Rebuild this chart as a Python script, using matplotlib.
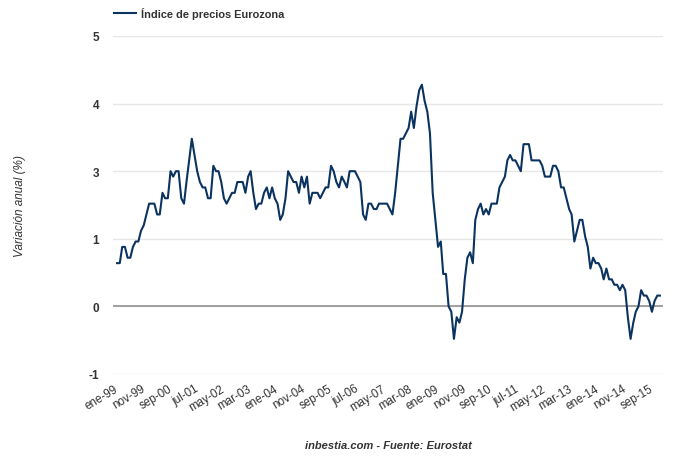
import numpy as np
import pandas as pd
import matplotlib
matplotlib.use("Agg")
import matplotlib.pyplot as plt
from matplotlib.transforms import ScaledTranslation

plt.rcParams['font.family'] = ['Liberation Sans', 'DejaVu Sans']

# Índice de precios Eurozona, variación anual (%), mensual ene-1999 .. dic-2015
ipc_1999 = [0.8, 0.8, 1.1, 1.1, 0.9, 0.9, 1.1, 1.2, 1.2, 1.4, 1.5, 1.7]
ipc_2000 = [1.9, 1.9, 1.9, 1.7, 1.7, 2.1, 2.0, 2.0, 2.5, 2.4, 2.5, 2.5]
ipc_2001 = [2.0, 1.9, 2.3, 2.7, 3.1, 2.8, 2.5, 2.3, 2.2, 2.2, 2.0, 2.0]
ipc_2002 = [2.6, 2.5, 2.5, 2.3, 2.0, 1.9, 2.0, 2.1, 2.1, 2.3, 2.3, 2.3]
ipc_2003 = [2.1, 2.4, 2.5, 2.1, 1.8, 1.9, 1.9, 2.1, 2.2, 2.0, 2.2, 2.0]
ipc_2004 = [1.9, 1.6, 1.7, 2.0, 2.5, 2.4, 2.3, 2.3, 2.1, 2.4, 2.2, 2.4]
ipc_2005 = [1.9, 2.1, 2.1, 2.1, 2.0, 2.1, 2.2, 2.2, 2.6, 2.5, 2.3, 2.2]
ipc_2006 = [2.4, 2.3, 2.2, 2.5, 2.5, 2.5, 2.4, 2.3, 1.7, 1.6, 1.9, 1.9]
ipc_2007 = [1.8, 1.8, 1.9, 1.9, 1.9, 1.9, 1.8, 1.7, 2.1, 2.6, 3.1, 3.1]
ipc_2008 = [3.2, 3.3, 3.6, 3.3, 3.7, 4.0, 4.1, 3.8, 3.6, 3.2, 2.1, 1.6]
ipc_2009 = [1.1, 1.2, 0.6, 0.6, 0.0, -0.1, -0.6, -0.2, -0.3, -0.1, 0.5, 0.9]
ipc_2010 = [1.0, 0.8, 1.6, 1.8, 1.9, 1.7, 1.8, 1.7, 1.9, 1.9, 1.9, 2.2]
ipc_2011 = [2.3, 2.4, 2.7, 2.8, 2.7, 2.7, 2.6, 2.5, 3.0, 3.0, 3.0, 2.7]
ipc_2012 = [2.7, 2.7, 2.7, 2.6, 2.4, 2.4, 2.4, 2.6, 2.6, 2.5, 2.2, 2.2]
ipc_2013 = [2.0, 1.8, 1.7, 1.2, 1.4, 1.6, 1.6, 1.3, 1.1, 0.7, 0.9, 0.8]
ipc_2014 = [0.8, 0.7, 0.5, 0.7, 0.5, 0.5, 0.4, 0.4, 0.3, 0.4, 0.3, -0.2]
ipc_2015 = [-0.6, -0.3, -0.1, 0.0, 0.3, 0.2, 0.2, 0.1, -0.1, 0.1, 0.2, 0.2]

x_labels = ['ene-99', 'nov-99', 'sep-00', 'jul-01', 'may-02', 'mar-03', 'ene-04',
            'nov-04', 'sep-05', 'jul-06', 'may-07', 'mar-08', 'ene-09', 'nov-09',
            'sep-10', 'jul-11', 'may-12', 'mar-13', 'ene-14', 'nov-14', 'sep-15']
y_ticks = [-1.25, 0, 1.25, 2.5, 3.75, 5]
y_labels = ['-1', '0', '1', '3', '4', '5']

valores = (ipc_1999 + ipc_2000 + ipc_2001 + ipc_2002 + ipc_2003 + ipc_2004 +
           ipc_2005 + ipc_2006 + ipc_2007 + ipc_2008 + ipc_2009 + ipc_2010 +
           ipc_2011 + ipc_2012 + ipc_2013 + ipc_2014 + ipc_2015)
fechas = pd.date_range('1999-01-01', periods=len(valores), freq='MS')

fig = plt.figure(figsize=(6.8, 4.6), dpi=100)
ax = fig.add_axes([113 / 680, 1 - 375 / 460, 550 / 680, 338 / 460])

ax.plot(fechas, valores, color='#0b3360', lw=1.5, label='Índice de precios Eurozona',
        solid_joinstyle='round')

# ejes
ax.set_ylim(-1.25, 5)
ax.set_yticks(y_ticks)
ax.set_yticklabels(y_labels)
ax.set_xlim(fechas[0] - pd.Timedelta(days=46), fechas[-1] + pd.Timedelta(days=35))
ax.set_xticks(fechas[::10])
ax.set_xticklabels(x_labels, rotation=31, ha='right', rotation_mode='anchor')

for s in ax.spines.values():
    s.set_visible(False)
ax.grid(axis='y', color='#e6e6e6', lw=1)
ax.set_axisbelow(True)
ax.axhline(0, color='#a0a0a0', lw=1.4, zorder=1)

ax.tick_params(axis='y', length=0, pad=10, labelsize=8.5, labelcolor='#333333')
ax.tick_params(axis='x', length=0, pad=6, labelsize=8.4, labelcolor='#333333')
for t in ax.get_yticklabels():
    t.set_fontweight('bold')
desplaza = ScaledTranslation(-3 / 100, 0, fig.dpi_scale_trans)
for t in ax.get_xticklabels():
    t.set_transform(t.get_transform() + desplaza)

ax.legend(loc='center left', bbox_to_anchor=(114 / 680, 1 - 14 / 460),
          bbox_transform=fig.transFigure, frameon=False, handlelength=2.0,
          handletextpad=0.45, borderpad=0, borderaxespad=0,
          prop={'weight': 'bold', 'size': 7.9}, labelcolor='#333333')

fig.text(20 / 680, 1 - 206 / 460, 'Variación anual (%)', rotation=90,
         ha='center', va='center', fontsize=8.5, style='italic', color='#333333')
fig.text(388 / 680, 1 - 446 / 460, 'inbestia.com - Fuente: Eurostat',
         ha='center', va='center', fontsize=8.0, style='italic',
         fontweight='bold', color='#333333')

fig.savefig('out.png', dpi=100)
